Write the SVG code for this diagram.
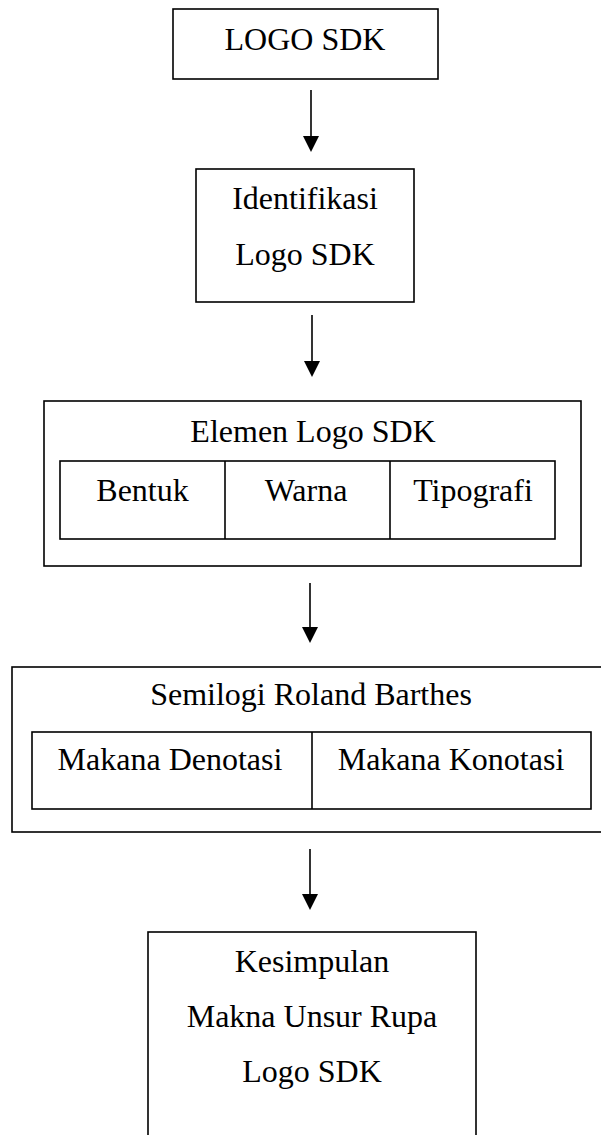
<svg xmlns="http://www.w3.org/2000/svg" width="601" height="1135" viewBox="0 0 601 1135">
<style>
.b{fill:#fff;stroke:#000;stroke-width:1.6}
.l{fill:none;stroke:#000;stroke-width:1.6}
.t{font-family:"Liberation Serif","Times New Roman",serif;font-size:32px;fill:#000;text-anchor:middle}
.c{stroke:#000;stroke-width:1.6;fill:none;marker-end:url(#ah)}
</style>
<defs>
<marker id="ah" markerWidth="16" markerHeight="16" refX="2" refY="8" orient="auto" markerUnits="userSpaceOnUse" viewBox="0 0 16 16">
<path d="M0,0 L16,8 L0,16 z" fill="#000"/>
</marker>
</defs>
<rect width="601" height="1135" fill="#fff"/>
<g id="n1">
<rect class="b" x="173" y="9" width="265" height="70"/>
<text class="t" x="305" y="50">LOGO SDK</text>
</g>
<g id="n2">
<rect class="b" x="196" y="169" width="218" height="133"/>
<text class="t" x="305" y="209">Identifikasi</text>
<text class="t" x="305" y="265">Logo SDK</text>
</g>
<g id="n3">
<rect class="b" x="44" y="401" width="537" height="165"/>
<text class="t" x="313" y="442">Elemen Logo SDK</text>
<rect class="b" x="60" y="461" width="495" height="78"/>
<line class="l" x1="225" y1="461" x2="225" y2="539"/>
<line class="l" x1="390" y1="461" x2="390" y2="539"/>
<text class="t" x="142.5" y="501">Bentuk</text>
<text class="t" x="306" y="501">Warna</text>
<text class="t" x="473" y="501">Tipografi</text>
</g>
<g id="n4">
<rect class="b" x="12" y="667" width="600" height="165"/>
<text class="t" x="311" y="705">Semilogi Roland Barthes</text>
<rect class="b" x="32" y="732" width="559" height="77"/>
<line class="l" x1="312" y1="732" x2="312" y2="809"/>
<text class="t" x="170" y="770">Makana Denotasi</text>
<text class="t" x="451" y="770">Makana Konotasi</text>
</g>
<g id="n5">
<rect class="b" x="148" y="932" width="328" height="215"/>
<text class="t" x="312" y="972">Kesimpulan</text>
<text class="t" x="312" y="1027">Makna Unsur Rupa</text>
<text class="t" x="312" y="1082">Logo SDK</text>
</g>
<g id="connectors">
<line class="c" x1="311" y1="90" x2="311" y2="138"/>
<line class="c" x1="312" y1="315" x2="312" y2="363"/>
<line class="c" x1="310" y1="583" x2="310" y2="629"/>
<line class="c" x1="310" y1="849" x2="310" y2="896"/>
</g>
</svg>
